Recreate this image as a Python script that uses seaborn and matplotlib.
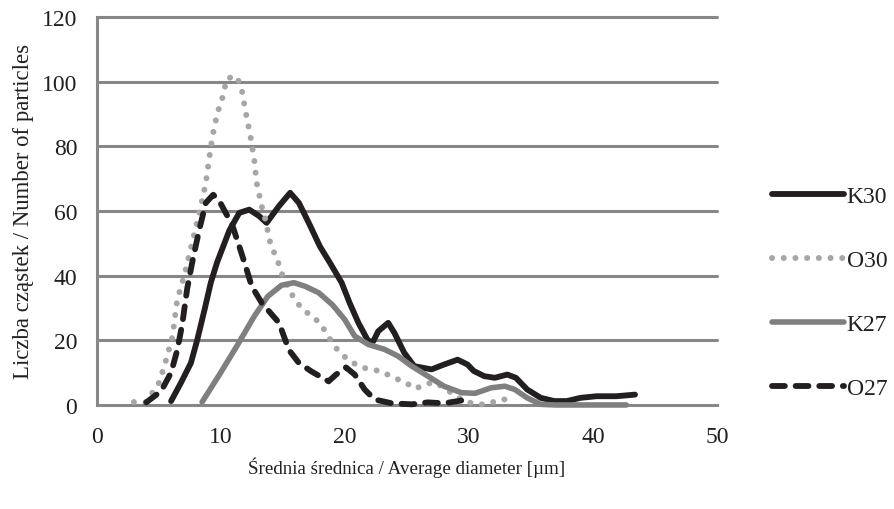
import pandas as pd
import seaborn as sns
import matplotlib.pyplot as plt

# values
series_names = ["K30", "O30", "K27", "O27"]

k30_x = [6.0, 6.8, 7.6, 8.1, 8.7, 9.2, 9.7, 10.1, 10.7, 11.5, 12.3, 13.1, 13.7,
         14.7, 15.6, 16.3, 17.1, 18.0, 18.8, 19.75, 20.4, 21.1, 21.9, 22.3,
         22.7, 23.5, 24.0, 24.8, 25.6, 27.0, 28.0, 29.1, 29.9, 30.4, 31.25,
         32.1, 33.1, 33.8, 34.7, 35.8, 36.9, 37.9, 39.0, 40.3, 41.9, 43.4]
k30_y = [1.2, 6.9, 13, 20, 29.5, 37.8, 44, 48, 54, 59.4, 60.4, 58.4, 56.3,
         61.5, 65.6, 62.5, 56.3, 49, 44, 37.8, 31.5, 25.4, 19.7, 19.7,
         22.8, 25.4, 22.3, 16.1, 12, 11, 12.5, 14, 12.5, 10.5, 8.9,
         8.4, 9.4, 8.4, 4.8, 2.2, 1.2, 1.2, 2.2, 2.7, 2.7, 3.2]

o30_x = [3.0, 4.0, 5.05, 5.6, 6.1, 6.5, 7.06, 7.5, 8.4, 8.8, 9.06, 9.33, 9.73,
         10.1, 10.5, 11.3, 11.7, 12.0, 12.4, 12.7, 12.9, 13.3, 13.6, 14.0,
         14.7, 15.0, 15.9, 16.5, 17.3, 18.0, 18.5, 19.0, 19.6, 20.3, 21.1,
         22.0, 23.0, 23.9, 24.7, 25.7, 26.5, 27.3, 28.5, 29.5, 30.5, 31.5,
         32.5, 33.3]
o30_y = [0.9, 0.9, 7, 14, 21, 32.6, 40, 47, 61.5, 68.7, 75.9, 83, 90.3,
         94.4, 101, 101.6, 97.5, 90.8, 83, 75.9, 68.7, 61.5, 57.3, 50,
         43.4, 39.8, 33, 30, 27.5, 25.4, 22.3, 19.2, 16.1, 14, 12,
         11, 10.4, 8.4, 7.4, 5, 6.5, 7, 4, 1.5, 0.2, 0.2,
         1.7, 1.7]

k27_x = [8.5, 10.0, 11.3, 12.7, 13.8, 14.9, 15.9, 16.8, 17.9, 19.0, 20.0, 20.8,
         21.9, 23.2, 24.3, 25.4, 26.7, 28.0, 29.4, 30.5, 31.8, 32.9, 33.7,
         34.7, 35.8, 37.0, 39.0, 41.0, 42.7]
k27_y = [0.9, 10, 18.2, 27.4, 33.6, 37, 37.8, 36.7, 34.7, 31, 26.4, 21.3,
         18.7, 17.2, 15.1, 12, 8.9, 5.8, 3.8, 3.6, 5.3, 5.8, 4.8,
         2.2, 0.2, 0, 0, 0, 0]

o27_x = [4.0, 5.2, 6.0, 6.5, 6.9, 7.3, 7.7, 8.26, 8.8, 9.4, 9.9, 10.4, 10.9,
         11.5, 12.0, 12.5, 13.3, 14.7, 15.5, 16.3, 17.3, 18.7, 19.3, 20.1,
         20.8, 21.6, 22.4, 23.8, 25.4, 26.7, 28.0, 29.9]
o27_y = [0.8, 4.3, 10, 17, 25, 36, 44, 54, 62.5, 65, 63, 59.4, 56,
         49, 43, 36.7, 31.6, 25.4, 17, 13, 10.4, 7.3, 9.4, 11.6,
         9.4, 4.8, 1.7, 0.5, 0.2, 0.8, 0.5, 1.7]

x_ticks = [0, 10, 20, 30, 40, 50]
y_ticks = [0, 20, 40, 60, 80, 100, 120]

x_label = "Średnia średnica / Average diameter [µm]"
y_label = "Liczba cząstek / Number of particles"

data = {
    "K30": (k30_x, k30_y),
    "O30": (o30_x, o30_y),
    "K27": (k27_x, k27_y),
    "O27": (o27_x, o27_y),
}

styles = {
    "K30": dict(color="#231f20", linestyle="-", linewidth=4.2),
    "O30": dict(color="#a6a6a6", linestyle=(0, (0.01, 1.95)), linewidth=4.3),
    "K27": dict(color="#7f7f7f", linestyle="-", linewidth=4.0),
    "O27": dict(color="#231f20", linestyle=(0, (2.2, 1.85)), linewidth=4.2),
}

sns.set_theme(style="white")
plt.rcParams['font.family'] = ['Liberation Serif', 'DejaVu Serif']

fig, ax = plt.subplots(figsize=(8.95, 5.1), dpi=100)
fig.subplots_adjust(left=0.108, right=0.801, bottom=0.204, top=0.965)

grid_color = "#878787"
text_color = "#231f20"
for y in y_ticks[1:]:
    ax.axhline(y, color=grid_color, linewidth=2.2, zorder=1)

for name in series_names:
    xs, ys = data[name]
    df = pd.DataFrame({"x": xs, "y": ys})
    sns.lineplot(data=df, x="x", y="y", ax=ax, sort=False, label=name,
                 zorder=3, **styles[name])

for line in ax.get_lines():
    line.set_solid_capstyle("round")
    line.set_dash_capstyle("round")
    line.set_solid_joinstyle("round")
    line.set_clip_on(False)

ax.set_xlim(0, 50)
ax.set_ylim(0, 120)
ax.set_xticks(x_ticks)
ax.set_yticks(y_ticks)

sns.despine(ax=ax)
for side in ["left", "bottom"]:
    ax.spines[side].set_color(grid_color)
    ax.spines[side].set_linewidth(2.2)
    ax.spines[side].set_zorder(2)

ax.tick_params(axis="both", which="major", direction="out", length=5,
               width=2, color=grid_color, labelsize=17, labelcolor=text_color)
ax.tick_params(axis="y", pad=9)
ax.tick_params(axis="x", pad=10)

ax.set_xlabel(x_label, fontsize=13.7, color=text_color, labelpad=7)
ax.set_ylabel(y_label, fontsize=16.4, color=text_color, labelpad=6)

leg = ax.legend(loc="center left", bbox_to_anchor=(1.055, 0.29),
                frameon=False, handlelength=3.05, handletextpad=0.1,
                labelspacing=1.8, fontsize=17)
for text in leg.get_texts():
    text.set_color(text_color)
for handle in leg.get_lines():
    handle.set_solid_capstyle("round")
    handle.set_dash_capstyle("round")

fig.savefig("out.png", dpi=100)
